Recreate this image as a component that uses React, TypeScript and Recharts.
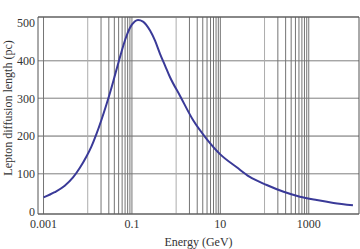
import React from "react";
import { LineChart, Line, XAxis, YAxis, CartesianGrid, ReferenceLine } from "recharts";

// energy (GeV) vs lepton diffusion length (pc)
const energy = [0.001, 0.00179, 0.00302, 0.00465, 0.00659, 0.00929, 0.0121, 0.0157, 0.0203, 0.0264, 0.0342, 0.0444, 0.0575, 0.0709, 0.0891, 0.1156, 0.1374, 0.178, 0.257, 0.333, 0.432, 0.561, 0.728, 1.22, 2.45, 4.92, 9.84, 23.5, 45.3, 112, 270, 630, 1520, 3640, 10000];
const diffLength = [37, 51, 68, 90, 115, 145, 172, 205, 242, 283, 327, 375, 422, 457, 486, 504, 508, 504, 480, 453, 418, 387, 356, 307, 241, 192, 152, 117, 92, 70, 52, 39, 30, 22.5, 16];

const xTicks = [0.001, 0.1, 10, 1000];
const yTicks = [0, 100, 200, 300, 400, 500];
const yGrid = [100, 200, 300, 400];
// vertical grid: decade starts (light) and the 2..10 multiples (dark)
const xGridLight = [0.01, 1, 100];
const xGridDark = [0.001, 0.02, 0.03, 0.04, 0.05, 0.06, 0.07, 0.08, 0.09, 0.1, 2, 3, 4, 5, 6, 7, 8, 9, 10, 200, 300, 400, 500, 600, 700, 800, 900, 1000];

const X_DOMAIN: [number, number] = [0.00075, 13700];
const Y_DOMAIN: [number, number] = [-7, 516];

const data = energy.map((e, i) => ({ e, len: diffLength[i] }));

const font = "'Liberation Serif', 'Times New Roman', serif";
const tickStyle = { fontSize: 12, fill: "#333", fontFamily: font };
const frame = "#555";
const hGrid = "#a6a6a6";

export default function App() {
	return (
		<div style={{ position: "absolute", left: 0, top: 0, width: 360, height: 249, background: "#fff" }}>
			<LineChart width={360} height={249} data={data} margin={{ top: 17, right: 1, bottom: 0, left: 0 }}>
				<XAxis
					dataKey="e" type="number" scale="log" domain={X_DOMAIN} allowDataOverflow
					ticks={xTicks} tickFormatter={(v: number) => String(v)}
					tickLine={false} tickSize={4} tickMargin={1} axisLine={false}
					tick={tickStyle} height={35} interval={0}
					label={{ value: "Energy (GeV)", position: "insideBottom", offset: 3, style: { fontSize: 12, fill: "#333", fontFamily: font } }}
				/>
				<YAxis
					type="number" domain={Y_DOMAIN} allowDataOverflow ticks={yTicks}
					tickLine={false} tickSize={2} tickMargin={1} axisLine={false}
					tick={tickStyle} width={38} interval={0}
				/>
				<YAxis yAxisId="grid" type="number" domain={Y_DOMAIN} allowDataOverflow ticks={yGrid} hide />
				<CartesianGrid yAxisId="grid" vertical={false} stroke={hGrid} strokeWidth={1.3} />
				{yGrid.map((v) => (
					<ReferenceLine y={v} stroke={hGrid} strokeWidth={1.3} />
				))}
				{xGridLight.map((v) => (
					<ReferenceLine key={"xl" + v} x={v} stroke="#acacac" strokeWidth={1} />
				))}
				{xGridDark.map((v) => (
					<ReferenceLine key={"xd" + v} x={v} stroke="#747474" strokeWidth={1} />
				))}
				<ReferenceLine x={X_DOMAIN[0]} stroke={frame} />
				<ReferenceLine x={X_DOMAIN[1]} stroke={frame} />
				<ReferenceLine y={Y_DOMAIN[0]} stroke={frame} />
				<ReferenceLine y={Y_DOMAIN[1]} stroke={frame} />
				<Line type="monotone" dataKey="len" stroke="#3a3a98" strokeWidth={2} dot={false} isAnimationActive={false} />
				<text x={12} y={108} transform="rotate(-90 12 108)" textAnchor="middle" fontSize={12} fill="#333" fontFamily={font}>
					Lepton diffusion length (pc)
				</text>
			</LineChart>
		</div>
	);
}
